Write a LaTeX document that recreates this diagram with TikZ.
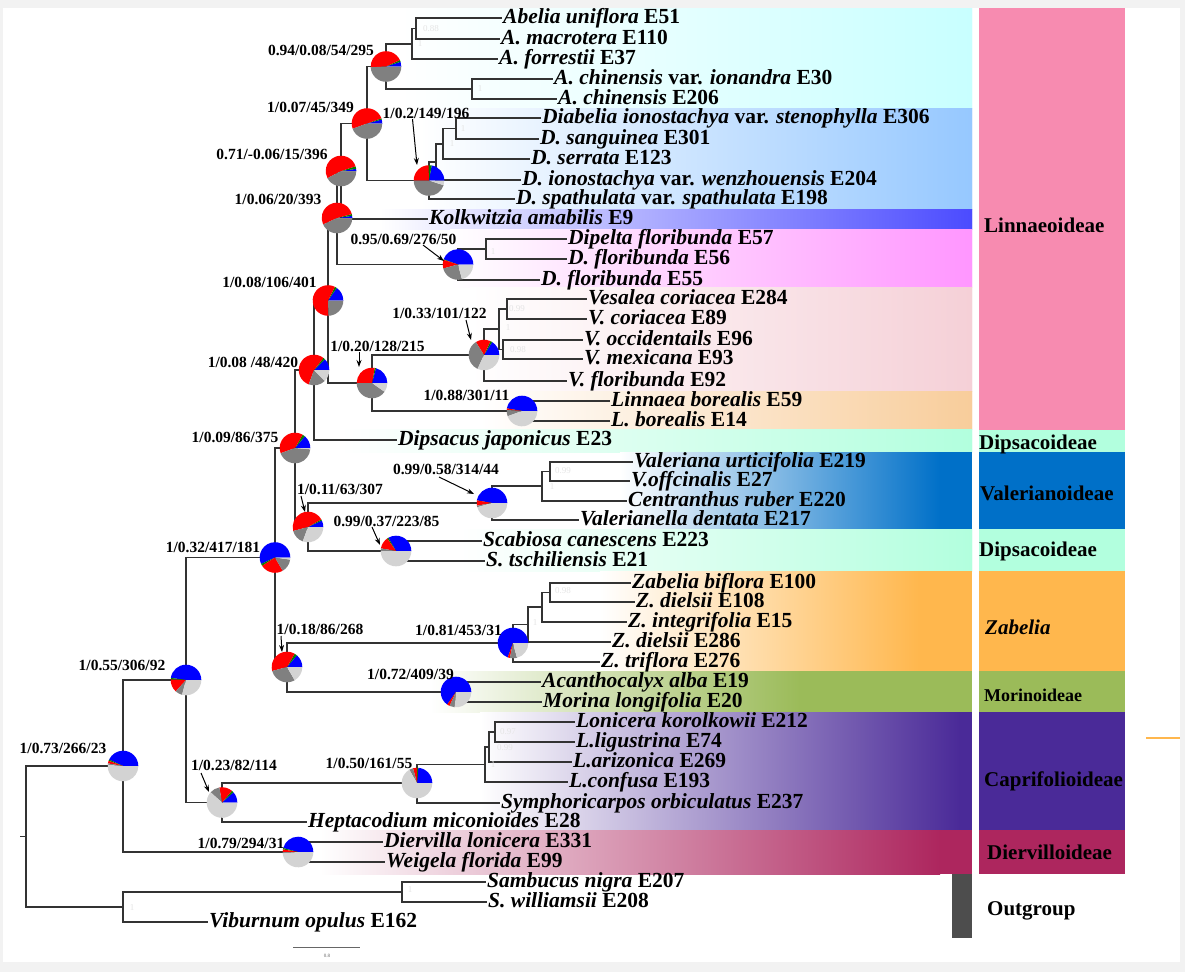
\documentclass[tikz,border=0pt]{standalone}
\usepackage{fontspec}
\setmainfont{Liberation Serif}
\usetikzlibrary{arrows.meta}

\definecolor{frame}{RGB}{242,242,242}
\definecolor{pieblue}{RGB}{0,0,255}
\definecolor{piegreen}{RGB}{0,128,0}
\definecolor{piered}{RGB}{255,0,0}
\definecolor{piedark}{RGB}{128,128,128}
\definecolor{pielight}{RGB}{211,211,211}
\definecolor{cAbel}{RGB}{200,255,255}
\definecolor{cDiab}{RGB}{150,200,255}
\definecolor{cKolk}{RGB}{75,75,255}
\definecolor{cDipe}{RGB}{255,150,255}
\definecolor{cVesa}{RGB}{245,208,215}
\definecolor{cLinn}{RGB}{248,205,155}
\definecolor{cDips}{RGB}{178,255,222}
\definecolor{cVale}{RGB}{0,112,200}
\definecolor{cZabe}{RGB}{255,183,77}
\definecolor{cMori}{RGB}{155,187,89}
\definecolor{cCapr}{RGB}{74,42,152}
\definecolor{cDier}{RGB}{173,38,94}
\definecolor{cLinBox}{RGB}{247,139,176}
\definecolor{cOut}{RGB}{77,77,77}

\newcommand{\taxfont}{\fontsize{21.5}{24}\selectfont\bfseries}
\newcommand{\supfont}{\fontsize{15.5}{18}\selectfont\bfseries}
\newcommand{\grpfont}{\fontsize{21}{24}\selectfont\bfseries}

% pie of one node: centre, then where the blue, green, red and dark grey slices end
\def\pr{15.3pt}
\newcommand{\piechart}[5]{%
  \fill[pieblue] (#1) -- ++(0:\pr) arc[start angle=0, end angle=#2, radius=\pr] -- cycle;
  \fill[piegreen] (#1) -- ++(#2:\pr) arc[start angle=#2, end angle=#3, radius=\pr] -- cycle;
  \fill[piered] (#1) -- ++(#3:\pr) arc[start angle=#3, end angle=#4, radius=\pr] -- cycle;
  \fill[piedark] (#1) -- ++(#4:\pr) arc[start angle=#4, end angle=#5, radius=\pr] -- cycle;
  \fill[pielight] (#1) -- ++(#5:\pr) arc[start angle=#5, end angle=360, radius=\pr] -- cycle;}

% clade band: top, bottom, start and end of the shading, colour
\newcommand{\band}[5]{%
  \shade[left color=white, right color=#5] (#3,#1) rectangle (#4,#2);
  \fill[#5] (#4,#1) rectangle (972,#2);}

\begin{document}
\begin{tikzpicture}[x=1pt, y=-1pt,
    taxon/.style={anchor=west, font=\taxfont, inner xsep=1pt, inner ysep=0pt, text height=14pt, text depth=4pt},
    support/.style={font=\supfont, inner sep=0pt, text height=11pt, text depth=1pt},
    group/.style={anchor=west, font=\grpfont, inner sep=0pt, text height=14pt, text depth=0pt},
    branch/.style={draw=black!80, line width=1.3pt},
    pointer/.style={-{Stealth[length=7pt, width=5pt]}, line width=1pt},
    faint/.style={font=\fontsize{9}{10}\selectfont, text=black!10, inner sep=0pt}]
  \useasboundingbox (0,0) rectangle (1185,972);
  \fill[frame] (0,0) rectangle (1185,972);
  \fill[white] (3,8) rectangle (1180,962);

  % clade bands
  \band{8}{108}{400}{972}{cAbel}
  \band{108}{209}{420}{972}{cDiab}
  \band{209}{229}{380}{972}{cKolk}
  \band{229}{287}{450}{972}{cDipe}
  \band{287}{391}{470}{972}{cVesa}
  \band{391}{429.5}{480}{972}{cLinn}
  \band{429.5}{452}{340}{972}{cDips}
  \band{452}{529}{620}{940}{cVale}
  \band{529}{571}{460}{972}{cDips}
  \band{571}{671}{600}{920}{cZabe}
  \band{671}{712}{430}{800}{cMori}
  \band{712}{830}{480}{960}{cCapr}
  \band{830}{874}{320}{940}{cDier}

  % subfamilies
  \fill[cLinBox] (979,8) rectangle (1125,429.5);
  \fill[cDips] (979,429.5) rectangle (1125,452);
  \fill[cVale] (979,452) rectangle (1125,529);
  \fill[cDips] (979,529) rectangle (1125,571);
  \fill[cZabe] (979,571) rectangle (1125,671);
  \fill[cMori] (979,671) rectangle (1125,712);
  \fill[cCapr] (979,712) rectangle (1125,830);
  \fill[cDier] (979,830) rectangle (1125,874);
  \fill[cOut] (952,874) rectangle (972,938);
  \node[group] (gLin) at (984,225) {Linnaeoideae};
  \node[group] (gDip1) at (979,442) {Dipsacoideae};
  \node[group] (gVal) at (980,493) {Valerianoideae};
  \node[group] (gDip2) at (979,549) {Dipsacoideae};
  \node[group] (gZab) at (985,627) {\itshape Zabelia};
  \node[group, font=\fontsize{18}{20}\selectfont\bfseries] (gMor) at (984,694) {Morinoideae};
  \node[group] (gCap) at (984,779) {Caprifolioideae};
  \node[group] (gDie) at (987,852) {Diervilloideae};
  \node[group] (gOut) at (987,908) {Outgroup};
  \draw[cZabe, line width=1.5pt] (1146,738) -- (1180,738);

  % taxa
  \node[taxon] (uni) at (502,18) {\textit{Abelia uniflora} E51};
  \node[taxon] (mac) at (500,39) {\textit{A. macrotera} E110};
  \node[taxon] (for) at (498,59) {\textit{A. forrestii} E37};
  \node[taxon] (ion) at (553,79) {\textit{A. chinensis} var. \textit{ionandra} E30};
  \node[taxon] (chi) at (557,99) {\textit{A. chinensis} E206};
  \node[taxon] (ste) at (541,118) {\textit{Diabelia ionostachya} var. \textit{stenophylla} E306};
  \node[taxon] (san) at (539,139) {\textit{D. sanguinea} E301};
  \node[taxon] (ser) at (530,159) {\textit{D. serrata} E123};
  \node[taxon] (wen) at (521,180) {\textit{D. ionostachya} var. \textit{wenzhouensis} E204};
  \node[taxon] (spa) at (515,199) {\textit{D. spathulata} var. \textit{spathulata} E198};
  \node[taxon] (kol) at (428,219) {\textit{Kolkwitzia amabilis} E9};
  \node[taxon] (d57) at (567,239) {\textit{Dipelta floribunda} E57};
  \node[taxon] (d56) at (567,259) {\textit{D. floribunda} E56};
  \node[taxon] (d55) at (540,280) {\textit{D. floribunda} E55};
  \node[taxon] (v284) at (587,299) {\textit{Vesalea coriacea} E284};
  \node[taxon] (v89) at (587,319) {\textit{V. coriacea} E89};
  \node[taxon] (v96) at (583,340) {\textit{V. occidentails} E96};
  \node[taxon] (v93) at (583,359) {\textit{V. mexicana} E93};
  \node[taxon] (v92) at (567,381) {\textit{V. floribunda} E92};
  \node[taxon] (l59) at (610,401) {\textit{Linnaea borealis} E59};
  \node[taxon] (l14) at (610,421) {\textit{L. borealis} E14};
  \node[taxon] (dja) at (397,440) {\textit{Dipsacus japonicus} E23};
  \node[taxon] (vur) at (633,462) {\textit{Valeriana urticifolia} E219};
  \node[taxon] (vof) at (630,481) {\textit{V.offcinalis} E27};
  \node[taxon] (cru) at (627,501) {\textit{Centranthus ruber} E220};
  \node[taxon] (vde) at (579,520) {\textit{Valerianella dentata} E217};
  \node[taxon] (sca) at (482,541) {\textit{Scabiosa canescens} E223};
  \node[taxon] (sts) at (485,561) {\textit{S. tschiliensis} E21};
  \node[taxon] (zbi) at (631,583) {\textit{Zabelia biflora} E100};
  \node[taxon] (z108) at (635,602) {\textit{Z. dielsii} E108};
  \node[taxon] (zin) at (627,622) {\textit{Z. integrifolia} E15};
  \node[taxon] (z286) at (611,642) {\textit{Z. dielsii} E286};
  \node[taxon] (ztr) at (600,662) {\textit{Z. triflora} E276};
  \node[taxon] (aca) at (541,682) {\textit{Acanthocalyx alba} E19};
  \node[taxon] (mlo) at (542,702) {\textit{Morina longifolia} E20};
  \node[taxon] (lko) at (575,722) {\textit{Lonicera korolkowii} E212};
  \node[taxon] (lli) at (575,742) {\textit{L.ligustrina} E74};
  \node[taxon] (lar) at (572,762) {\textit{L.arizonica} E269};
  \node[taxon] (lco) at (568,782) {\textit{L.confusa} E193};
  \node[taxon] (sor) at (500,803) {\textit{Symphoricarpos orbiculatus} E237};
  \node[taxon] (hep) at (307,822) {\textit{Heptacodium miconioides} E28};
  \node[taxon] (dlo) at (383,842) {\textit{Diervilla lonicera} E331};
  \node[taxon] (wfl) at (385,862) {\textit{Weigela florida} E99};
  \node[taxon] (sni) at (486,882) {\textit{Sambucus nigra} E207};
  \node[taxon] (swi) at (487,902) {\textit{S. williamsii} E208};
  \node[taxon] (vop) at (208,922) {\textit{Viburnum opulus} E162};

  % inner nodes
  \coordinate (nAbu) at (416,28.5);  \coordinate (nAbf) at (412,44);
  \coordinate (nAch) at (472,89);    \coordinate (nAb) at (386,66.5);
  \coordinate (nD1) at (456,128.5);  \coordinate (nD2) at (443,144);
  \coordinate (nD3) at (436,162);    \coordinate (nDia) at (429,180.5);
  \coordinate (nAD) at (367,123.5);  \coordinate (nAK) at (341,171);
  \coordinate (nDp1) at (486,249);   \coordinate (nDip) at (458,264.5);
  \coordinate (nLK) at (337,218);
  \coordinate (nV1) at (507,309);    \coordinate (nV2) at (503,349.5);
  \coordinate (nV3) at (499,329);    \coordinate (nVes) at (484,355);
  \coordinate (nLin) at (522,411);   \coordinate (nVL) at (372,383);
  \coordinate (nL106) at (328,300.5); \coordinate (nL48) at (314,370);
  \coordinate (nVa1) at (550,471.5); \coordinate (nVa2) at (542,486);
  \coordinate (nVal) at (492,503);   \coordinate (nSca) at (396,551);
  \coordinate (nVS) at (308,527);    \coordinate (nDV) at (295,448);
  \coordinate (nZ1) at (550,592.5);  \coordinate (nZ2) at (542,607);
  \coordinate (nZ3) at (528,624.5);  \coordinate (nZab) at (513,643);
  \coordinate (nMor) at (456,692);   \coordinate (nZM) at (287,667);
  \coordinate (nLD) at (275,557.5);
  \coordinate (nL1) at (495,732);    \coordinate (nL2) at (489,747);
  \coordinate (nL3) at (485,764.5);  \coordinate (nCap) at (417,783);
  \coordinate (nCH) at (222,802.5);  \coordinate (nIn) at (186,680);
  \coordinate (nDie) at (298,852);   \coordinate (nIng) at (123,766);
  \coordinate (nSam) at (402,892);   \coordinate (nOut) at (123,907);
  \coordinate (nRoot) at (26,836.5); \coordinate (stub) at (20,836.5);

  % branches
  \foreach \p/\c in {nAbu/uni.west, nAbu/mac.west, nAbf/nAbu, nAbf/for.west,
      nAch/ion.west, nAch/chi.west, nAb/nAbf, nAb/nAch,
      nD1/ste.west, nD1/san.west, nD2/nD1, nD2/ser.west, nD3/nD2, nD3/wen.west,
      nDia/nD3, nDia/spa.west, nAD/nAb, nAD/nDia, nAK/nAD, nAK/kol.west,
      nDp1/d57.west, nDp1/d56.west, nDip/nDp1, nDip/d55.west, nLK/nAK, nLK/nDip,
      nV1/v284.west, nV1/v89.west, nV2/v96.west, nV2/v93.west, nV3/nV1, nV3/nV2,
      nVes/nV3, nVes/v92.west, nLin/l59.west, nLin/l14.west, nVL/nVes, nVL/nLin,
      nL106/nLK, nL106/nVL, nL48/nL106, nL48/dja.west,
      nVa1/vur.west, nVa1/vof.west, nVa2/nVa1, nVa2/cru.west, nVal/nVa2, nVal/vde.west,
      nSca/sca.west, nSca/sts.west, nVS/nVal, nVS/nSca, nDV/nL48, nDV/nVS,
      nZ1/zbi.west, nZ1/z108.west, nZ2/nZ1, nZ2/zin.west, nZ3/nZ2, nZ3/z286.west,
      nZab/nZ3, nZab/ztr.west, nMor/aca.west, nMor/mlo.west, nZM/nZab, nZM/nMor,
      nLD/nDV, nLD/nZM,
      nL1/lko.west, nL1/lli.west, nL2/nL1, nL2/lar.west, nL3/nL2, nL3/lco.west,
      nCap/nL3, nCap/sor.west, nCH/nCap, nCH/hep.west, nIn/nLD, nIn/nCH,
      nDie/dlo.west, nDie/wfl.west, nIng/nIn, nIng/nDie,
      nSam/sni.west, nSam/swi.west, nOut/nSam, nOut/vop.west, nRoot/nIng, nRoot/nOut}
    \draw[branch] (\p) |- (\c);
  \draw[branch] (stub) -- (nRoot);

  % pies
  \piechart{nAb}{18}{25}{183}{360}
  \piechart{nAD}{15}{20}{200}{360}
  \piechart{nDia}{80}{92}{180}{342}
  \piechart{nAK}{8}{18}{208}{360}
  \piechart{nLK}{8}{15}{205}{360}
  \piechart{nDip}{160}{162}{195}{285}
  \piechart{nL106}{55}{63}{272}{360}
  \piechart{nL48}{45}{52}{250}{315}
  \piechart{nVL}{75}{80}{180}{325}
  \piechart{nVes}{58}{65}{122}{245}
  \piechart{nLin}{170}{170}{176}{200}
  \piechart{nDV}{50}{60}{200}{355}
  \piechart{nVS}{25}{30}{195}{250}
  \piechart{nVal}{170}{170}{190}{196}
  \piechart{nSca}{120}{125}{170}{180}
  \piechart{nLD}{205}{213}{300}{352}
  \piechart{nZM}{50}{60}{195}{300}
  \piechart{nZab}{250}{250}{258}{285}
  \piechart{nMor}{235}{235}{245}{265}
  \piechart{nIn}{172}{178}{228}{255}
  \piechart{nCH}{42}{50}{100}{138}
  \piechart{nCap}{85}{90}{105}{120}
  \piechart{nDie}{165}{170}{180}{184}
  \piechart{nIng}{155}{160}{170}{175}

  % support values
  \node[support] (sAb) at (321,50) {0.94/0.08/54/295};
  \node[support] (sAD) at (310.5,107) {1/0.07/45/349};
  \node[support] (sDia) at (426,113) {1/0.2/149/196};
  \node[support] (sAK) at (272,154) {0.71/-0.06/15/396};
  \node[support] (sLK) at (278,199) {1/0.06/20/393};
  \node[support] (sDip) at (403.5,239) {0.95/0.69/276/50};
  \node[support] (sL106) at (269.5,282) {1/0.08/106/401};
  \node[support] (sL48) at (253,362) {1/0.08 /48/420};
  \node[support] (sVL) at (377.5,346) {1/0.20/128/215};
  \node[support] (sVes) at (439.5,313) {1/0.33/101/122};
  \node[support] (sLin) at (466.5,395) {1/0.88/301/11};
  \node[support] (sDV) at (235,437) {1/0.09/86/375};
  \node[support] (sVS) at (340,489) {1/0.11/63/307};
  \node[support] (sVal) at (446,469) {0.99/0.58/314/44};
  \node[support] (sSca) at (386.5,521) {0.99/0.37/223/85};
  \node[support] (sLD) at (213,547) {1/0.32/417/181};
  \node[support] (sZM) at (320,629) {1/0.18/86/268};
  \node[support] (sZab) at (458.5,630) {1/0.81/453/31};
  \node[support] (sMor) at (410.5,674) {1/0.72/409/39};
  \node[support] (sIn) at (122,665) {1/0.55/306/92};
  \node[support] (sCH) at (234,765) {1/0.23/82/114};
  \node[support] (sCap) at (369,763) {1/0.50/161/55};
  \node[support] (sDie) at (241,843) {1/0.79/294/31};
  \node[support] (sIng) at (63,748) {1/0.73/266/23};

  % arrows from values to pies
  \coordinate (aDia0) at (412.5,119); \coordinate (aDia1) at (417,165);
  \coordinate (aDip0) at (423,245);   \coordinate (aDip1) at (444,261);
  \coordinate (aVL0) at (359,352);    \coordinate (aVL1) at (359,367);
  \coordinate (aVes0) at (466,320);   \coordinate (aVes1) at (471,340);
  \coordinate (aVal0) at (439,477);   \coordinate (aVal1) at (474,494);
  \coordinate (aVS0) at (301,496);    \coordinate (aVS1) at (305,512);
  \coordinate (aSca0) at (372,527);   \coordinate (aSca1) at (380,545);
  \coordinate (aZM0) at (281,636);    \coordinate (aZM1) at (282,652);
  \coordinate (aCH0) at (201,773);    \coordinate (aCH1) at (209,792);
  \foreach \a in {aDia, aDip, aVL, aVes, aVal, aVS, aSca, aZM, aCH}
    \draw[pointer] (\a0) -- (\a1);

  % faint bootstrap values
  \foreach \x/\y/\t [count=\i] in {431/29/0.88, 420/44/1, 480/89/1, 463/129/1, 452/144/1,
      493/252/1, 517/309/0.99, 508/328/1, 518/350/0.98, 563/471/0.99, 552/487/1,
      563/591/0.98, 535/623/1, 508/732/0.97, 505/748/0.99, 493/765/1, 410/890/1, 132/908/1}
    \node[faint] (f\i) at (\x,\y) {\t};

  % scale bar
  \coordinate (sb0) at (293,947);
  \coordinate (sb1) at (360,947);
  \draw[black!60, line width=0.6pt] (sb0) -- (sb1);
  \node[font=\fontsize{5}{6}\selectfont, text=black!60] (sbl) at (327,956) {0.8};
\end{tikzpicture}
\end{document}
